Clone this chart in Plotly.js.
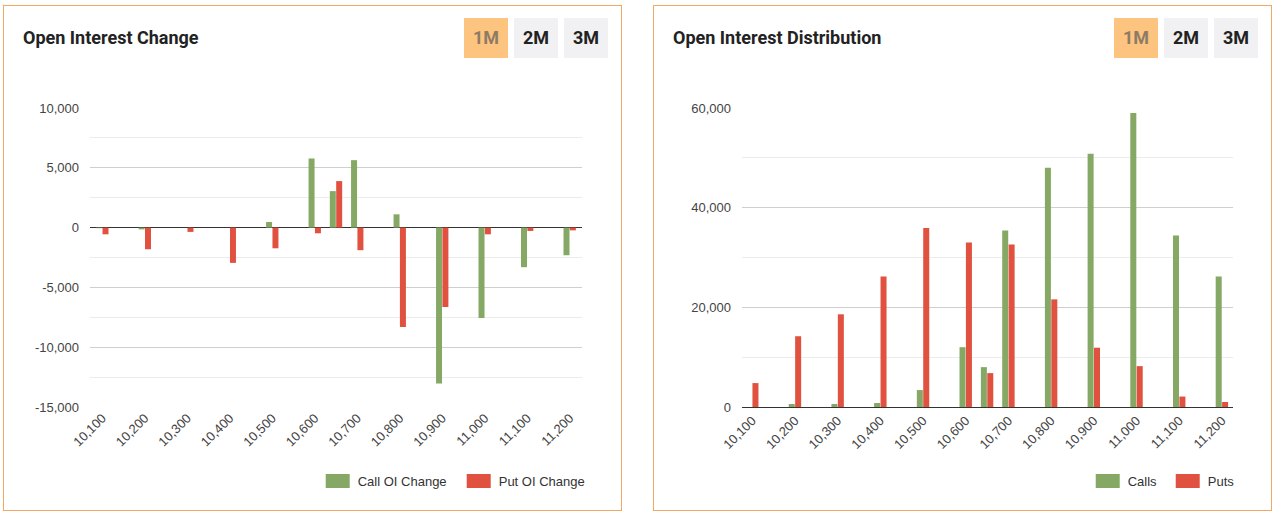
<!DOCTYPE html>
<html>
<head>
<meta charset="utf-8">
<script src="https://cdn.plot.ly/plotly-3.0.1.min.js"></script>
<style>
  html, body { margin: 0; padding: 0; background: #ffffff; }
  body { width: 1278px; height: 515px; position: relative; overflow: hidden; }
  .panel { position: absolute; top: 5px; width: 617px; height: 504px; border: 1px solid #f2a865; background: #fff; }
  .chart { position: absolute; left: 0; top: 0; width: 617px; height: 504px; }
  .btns { position: absolute; top: 12px; right: 13px; display: flex; gap: 6px; z-index: 5; }
  .btn { width: 44px; height: 40px; line-height: 40px; text-align: center; font-family: Roboto, sans-serif; font-weight: 700; font-size: 18px; background: #f1f1f3; color: #222; }
  .btn.active { background: #fdc47f; color: #8d7b66; }
</style>
</head>
<body>
<div class="panel" id="p1" style="left:3px;">
  <div class="chart" id="c1"></div>
  <div class="btns"><div class="btn active">1M</div><div class="btn">2M</div><div class="btn">3M</div></div>
</div>
<div class="panel" id="p2" style="left:653px;">
  <div class="chart" id="c2"></div>
  <div class="btns"><div class="btn active">1M</div><div class="btn">2M</div><div class="btn">3M</div></div>
</div>
<script>
// Data
const strikes = [10100, 10200, 10300, 10400, 10500, 10600, 10650, 10700, 10800, 10900, 11000, 11100, 11200];
const callOIChange = [-50, -150, 0, 0, 470, 5780, 3050, 5640, 1110, -13030, -7560, -3310, -2310];
const putOIChange = [-560, -1810, -360, -2950, -1730, -475, 3890, -1890, -8310, -6640, -560, -280, -230];
const callsOI = [0, 600, 600, 800, 3400, 12000, 8000, 35400, 48000, 50800, 59000, 34400, 26200];
const putsOI = [4800, 14200, 18600, 26200, 35900, 33000, 6800, 32600, 21600, 11900, 8200, 2100, 1000];
const xTicks = [10100, 10200, 10300, 10400, 10500, 10600, 10700, 10800, 10900, 11000, 11100, 11200];
const xTickText = ["10,100", "10,200", "10,300", "10,400", "10,500", "10,600", "10,700", "10,800", "10,900", "11,000", "11,100", "11,200"];
const y1Ticks = [-15000, -10000, -5000, 0, 5000, 10000];
const y1TickText = ["-15,000", "-10,000", "-5,000", "0", "5,000", "10,000"];
const y2Ticks = [0, 20000, 40000, 60000];
const y2TickText = ["0", "20,000", "40,000", "60,000"];

const GREEN = '#86a865';
const RED = '#e1513f';
const tickFont = { family: 'Arial, "Liberation Sans", sans-serif', size: 13, color: '#444' };

function baseLayout(title, ml, mr, entryW, legX) {
  return {
    width: 617, height: 504,
    margin: { l: ml, r: mr, t: 102, b: 103, pad: 0 },
    paper_bgcolor: 'rgba(0,0,0,0)', plot_bgcolor: 'rgba(0,0,0,0)',
    title: {
      text: title, xref: 'container', yref: 'container',
      x: 19 / 617, xanchor: 'left', y: 1 - 32 / 504, yanchor: 'middle',
      font: { family: 'Roboto, sans-serif', size: 18, weight: 700, color: '#222' }
    },
    barmode: 'group', bargap: 0.4, bargroupgap: 0.06,
    showlegend: true,
    legend: {
      orientation: 'h', xref: 'paper', x: legX, xanchor: 'right',
      yref: 'container', y: 1 - 475 / 504, yanchor: 'middle',
      entrywidth: entryW, entrywidthmode: 'pixels',
      font: { family: 'Arial, "Liberation Sans", sans-serif', size: 13, color: '#333' },
      traceorder: 'normal', itemclick: false
    },
    hovermode: false
  };
}

const l1 = baseLayout('Open Interest Change', 86, 39, 96, 1.036);
l1.xaxis = {
  range: [10071, 11229], tickmode: 'array', tickvals: xTicks, ticktext: xTickText,
  tickangle: -45, tickfont: tickFont, showgrid: false, zeroline: false, showline: false, ticks: ''
};
l1.yaxis = {
  range: [-15000, 10000], tickmode: 'array', tickvals: y1Ticks, ticktext: y1TickText,
  tickfont: tickFont, showgrid: true, gridcolor: '#cfcfcf', gridwidth: 1,
  zeroline: true, zerolinecolor: '#333', zerolinewidth: 1, showline: false, ticks: '',
  ticklabelstandoff: 10,
  minor: { tickmode: 'linear', tick0: 0, dtick: 2500, showgrid: true, gridcolor: '#ececec', gridwidth: 1, ticks: '' }
};
const d1 = [
  { type: 'bar', name: 'Call OI Change', x: strikes, y: callOIChange, marker: { color: GREEN, line: { width: 0 } } },
  { type: 'bar', name: 'Put OI Change', x: strikes, y: putOIChange, marker: { color: RED, line: { width: 0 } } }
];

const l2 = baseLayout('Open Interest Distribution', 88, 38, 35, 1.030);
l2.xaxis = {
  range: [10076, 11226], tickmode: 'array', tickvals: xTicks, ticktext: xTickText,
  tickangle: -45, tickfont: tickFont, showgrid: false, zeroline: false,
  showline: true, linecolor: '#333', linewidth: 1, ticks: ''
};
l2.yaxis = {
  range: [0, 60000], tickmode: 'array', tickvals: y2Ticks, ticktext: y2TickText,
  tickfont: tickFont, showgrid: true, gridcolor: '#cfcfcf', gridwidth: 1,
  zeroline: false, showline: false, ticks: '', ticklabelstandoff: 10,
  minor: { tickmode: 'linear', tick0: 0, dtick: 10000, showgrid: true, gridcolor: '#ececec', gridwidth: 1, ticks: '' }
};
const d2 = [
  { type: 'bar', name: 'Calls', x: strikes, y: callsOI, marker: { color: GREEN, line: { width: 0 } } },
  { type: 'bar', name: 'Puts', x: strikes, y: putsOI, marker: { color: RED, line: { width: 0 } } }
];

// widen the legend swatches to match the reference's rectangular keys
function widenSwatches(gd) {
  gd.querySelectorAll('.legend .legendpoints path').forEach(function (p) {
    p.setAttribute('d', 'M12,7H-12V-7H12Z');
  });
}

const cfg = { staticPlot: true, displayModeBar: false };
Plotly.newPlot('c1', d1, l1, cfg).then(widenSwatches);
Plotly.newPlot('c2', d2, l2, cfg).then(widenSwatches);
</script>
</body>
</html>
